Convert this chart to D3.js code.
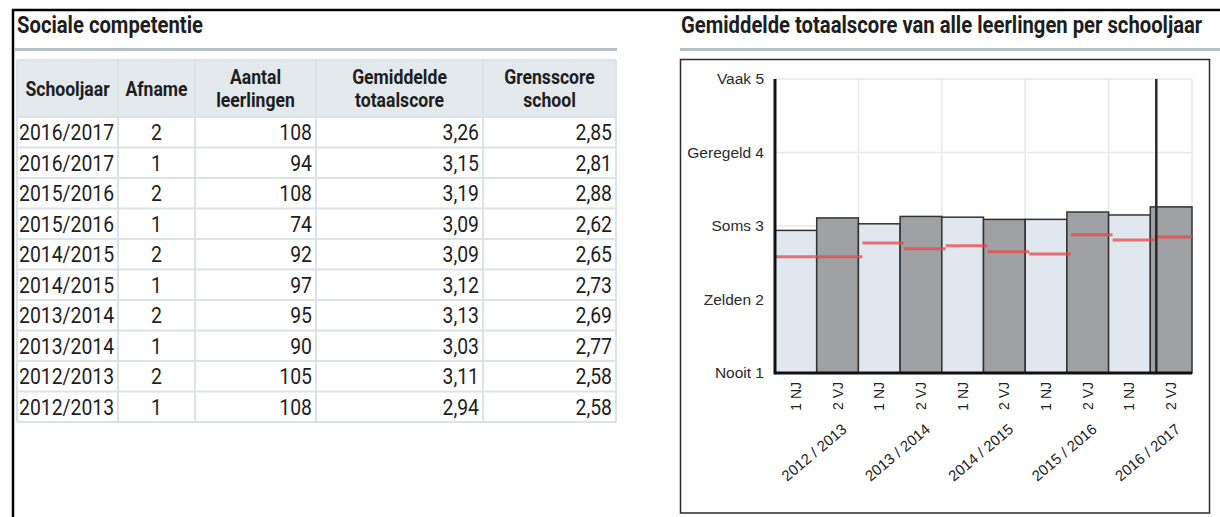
<html>

<head>
    <meta charset="utf-8">
    <title>Sociale competentie</title>
    <style>
        body { margin: 0; background: #fff; }
        svg { display: block; }
    </style>
</head>

<body>
    <script src="https://cdn.jsdelivr.net/npm/d3@7/dist/d3.min.js" charset="utf-8"></script>
    <script>

        // tabel-data (volgorde zoals in de tabel)
        var schooljaren = ["2016/2017", "2016/2017", "2015/2016", "2015/2016", "2014/2015", "2014/2015", "2013/2014", "2013/2014", "2012/2013", "2012/2013"];
        var afnames = [2, 1, 2, 1, 2, 1, 2, 1, 2, 1];
        var aantallen = [108, 94, 108, 74, 92, 97, 95, 90, 105, 108];
        var gemiddelden = [3.26, 3.15, 3.19, 3.09, 3.09, 3.12, 3.13, 3.03, 3.11, 2.94];
        var grensscores = [2.85, 2.81, 2.88, 2.62, 2.65, 2.73, 2.69, 2.77, 2.58, 2.58];

        var kopteksten = [["Schooljaar"], ["Afname"], ["Aantal", "leerlingen"], ["Gemiddelde", "totaalscore"], ["Grensscore", "school"]];
        var afnameLabels = { 1: "1 NJ", 2: "2 VJ" };
        var yLabels = ["Nooit 1", "Zelden 2", "Soms 3", "Geregeld 4", "Vaak 5"];

        var width = 1220, height = 517;
        var condensed = 0.88;   // Roboto horizontaal smaller maken (geen condensed font aanwezig)

        var svg = d3.select("body").append("svg")
            .attr("width", width)
            .attr("height", height);

        // tekst in "condensed" stijl
        function ctext(parent, x, y, str, size, weight, anchor) {
            return parent.append("g")
                .attr("transform", "translate(" + x + "," + y + ") scale(" + condensed + ",1)")
                .append("text")
                .attr("font-family", "Roboto, 'DejaVu Sans Condensed', sans-serif")
                .attr("font-size", size)
                .attr("font-weight", weight)
                .attr("fill", "#1e1e1e")
                .attr("text-anchor", anchor)
                .text(str);
        }

        // kader van de pagina
        svg.append("line").attr("x1", 12).attr("x2", width).attr("y1", 10).attr("y2", 10)
            .attr("stroke", "#000").attr("stroke-width", 2.5);
        svg.append("line").attr("x1", 13).attr("x2", 13).attr("y1", 9).attr("y2", height)
            .attr("stroke", "#000").attr("stroke-width", 2.5);

        // ---------- tabel ----------
        ctext(svg, 17, 33, "Sociale competentie", 23, "bold", "start");
        svg.append("line").attr("x1", 15).attr("x2", 617).attr("y1", 49.5).attr("y2", 49.5)
            .attr("stroke", "#b6c1ca").attr("stroke-width", 3);

        var kolX = [17, 118, 195, 316, 483, 616];
        var kopTop = 60, kopHoogte = 57, rijHoogte = 30.5;
        var uitlijning = ["start", "middle", "end", "end", "end"];

        var tabel = svg.append("g");
        tabel.append("rect")
            .attr("x", kolX[0]).attr("y", kopTop)
            .attr("width", kolX[5] - kolX[0]).attr("height", kopHoogte)
            .attr("fill", "#e4e9ee");

        var rijen = schooljaren.map(function (s, i) {
            return [s, afnames[i], aantallen[i],
                d3.format(".2f")(gemiddelden[i]).replace(".", ","),
                d3.format(".2f")(grensscores[i]).replace(".", ",")];
        });
        var tabelBodem = kopTop + kopHoogte + rijen.length * rijHoogte;

        // horizontale lijnen
        var hLijnen = [kopTop, kopTop + kopHoogte].concat(rijen.map(function (r, i) { return kopTop + kopHoogte + (i + 1) * rijHoogte; }));
        tabel.selectAll(".hl").data(hLijnen).enter().append("line")
            .attr("x1", kolX[0]).attr("x2", kolX[5])
            .attr("y1", d => d).attr("y2", d => d)
            .attr("stroke", "#dde2e7").attr("stroke-width", 2);
        tabel.selectAll(".vl").data(kolX).enter().append("line")
            .attr("x1", d => d).attr("x2", d => d)
            .attr("y1", kopTop).attr("y2", tabelBodem)
            .attr("stroke", "#dde2e7").attr("stroke-width", 2);

        // kop
        kopteksten.forEach(function (regels, k) {
            var cx = (kolX[k] + kolX[k + 1]) / 2;
            var y0 = kopTop + kopHoogte / 2 + 7 - (regels.length - 1) * 11.5;
            regels.forEach(function (r, j) {
                ctext(tabel, cx, y0 + j * 23, r, 20, "bold", "middle");
            });
        });

        // cellen
        rijen.forEach(function (rij, i) {
            var y = kopTop + kopHoogte + i * rijHoogte + 23;
            rij.forEach(function (waarde, k) {
                var x = uitlijning[k] == "start" ? kolX[k] + 2 :
                    uitlijning[k] == "middle" ? (kolX[k] + kolX[k + 1]) / 2 : kolX[k + 1] - 4;
                ctext(tabel, x, y, waarde, 22, "normal", uitlijning[k]);
            });
        });

        // ---------- grafiek ----------
        ctext(svg, 681, 33, "Gemiddelde totaalscore van alle leerlingen per schooljaar", 23, "bold", "start");
        svg.append("line").attr("x1", 680).attr("x2", width).attr("y1", 49.5).attr("y2", 49.5)
            .attr("stroke", "#b6c1ca").attr("stroke-width", 3);

        svg.append("rect")
            .attr("x", 680.5).attr("y", 59.5).attr("width", 529).attr("height", 453.5)
            .attr("fill", "#fff").attr("stroke", "#2b2b2b").attr("stroke-width", 1.5);

        // chronologisch voor de grafiek
        var balken = schooljaren.map(function (s, i) {
            return { jaar: s, afname: afnames[i], score: gemiddelden[i], grens: grensscores[i], key: s + "-" + afnames[i] };
        }).reverse();
        var jaren = Array.from(new Set(balken.map(d => d.jaar)));

        var plot = { left: 775, right: 1192, top: 79, bottom: 373 };
        var x = d3.scaleBand().domain(balken.map(d => d.key)).range([plot.left, plot.right]);
        var xJaar = d3.scaleBand().domain(jaren).range([plot.left, plot.right]);
        var y = d3.scaleLinear().domain([1, 5]).range([plot.bottom, plot.top]);

        // rasterlijnen
        svg.append("g").selectAll("line").data(d3.range(2, 6)).enter().append("line")
            .attr("x1", plot.left).attr("x2", plot.right)
            .attr("y1", d => y(d)).attr("y2", d => y(d))
            .attr("stroke", "#e8e8e8").attr("stroke-width", 1.5);
        svg.append("g").selectAll("line").data(jaren).enter().append("line")
            .attr("x1", d => xJaar(d) + xJaar.bandwidth()).attr("x2", d => xJaar(d) + xJaar.bandwidth())
            .attr("y1", plot.top).attr("y2", plot.bottom)
            .attr("stroke", "#e8e8e8").attr("stroke-width", 1.5);

        // staven
        svg.append("g").selectAll("rect").data(balken).enter().append("rect")
            .attr("x", d => x(d.key))
            .attr("y", d => y(d.score))
            .attr("width", x.bandwidth())
            .attr("height", d => y(1) - y(d.score))
            .attr("fill", d => d.afname == 1 ? "#e1e7ee" : "#a0a1a5")
            .attr("stroke", "#333")
            .attr("stroke-width", 1.5);

        // grensscore
        var verschuiving = 4;
        svg.append("g").selectAll("line").data(balken).enter().append("line")
            .attr("x1", (d, i) => i == 0 ? x(d.key) : x(d.key) + verschuiving)
            .attr("x2", d => Math.min(plot.right, x(d.key) + x.bandwidth() + verschuiving))
            .attr("y1", d => y(d.grens)).attr("y2", d => y(d.grens))
            .attr("stroke", "#e8484b").attr("stroke-opacity", 0.75)
            .attr("stroke-width", 3);

        // markering huidige afname
        var huidige = balken[balken.length - 1];
        svg.append("line")
            .attr("x1", x(huidige.key) + 6).attr("x2", x(huidige.key) + 6)
            .attr("y1", plot.top).attr("y2", plot.bottom)
            .attr("stroke", "#2a2a2a").attr("stroke-width", 2.5);

        // assen
        svg.append("line").attr("x1", plot.left).attr("x2", plot.left)
            .attr("y1", plot.top).attr("y2", plot.bottom + 1.5)
            .attr("stroke", "#111").attr("stroke-width", 3);
        svg.append("line").attr("x1", plot.left).attr("x2", plot.right)
            .attr("y1", plot.bottom).attr("y2", plot.bottom)
            .attr("stroke", "#111").attr("stroke-width", 3);

        // y-labels
        svg.append("g").selectAll("text").data(yLabels).enter().append("text")
            .attr("x", 764)
            .attr("y", (d, i) => y(i + 1))
            .attr("dy", "0.35em")
            .attr("text-anchor", "end")
            .attr("font-family", "'Liberation Sans', Arial, sans-serif")
            .attr("font-size", 15.5)
            .attr("fill", "#2a2a2a")
            .text(d => d);

        // x-labels afname
        svg.append("g").selectAll("text").data(balken).enter().append("text")
            .attr("transform", d => "translate(" + (x(d.key) + x.bandwidth() / 2 + 5) + "," + (plot.bottom + 9) + ") rotate(-90)")
            .attr("text-anchor", "end")
            .attr("font-family", "'Liberation Sans', Arial, sans-serif")
            .attr("font-size", 14)
            .attr("fill", "#1e1e1e")
            .text(d => afnameLabels[d.afname]);

        // x-labels schooljaar
        svg.append("g").selectAll("text").data(jaren).enter().append("text")
            .attr("transform", d => "translate(" + (xJaar(d) + xJaar.bandwidth() / 2 + 31) + "," + (plot.bottom + 58) + ") rotate(-40)")
            .attr("text-anchor", "end")
            .attr("font-family", "'Liberation Sans', Arial, sans-serif")
            .attr("font-size", 15)
            .attr("fill", "#1e1e1e")
            .text(d => d.replace("/", " / "));

    </script>
</body>

</html>
